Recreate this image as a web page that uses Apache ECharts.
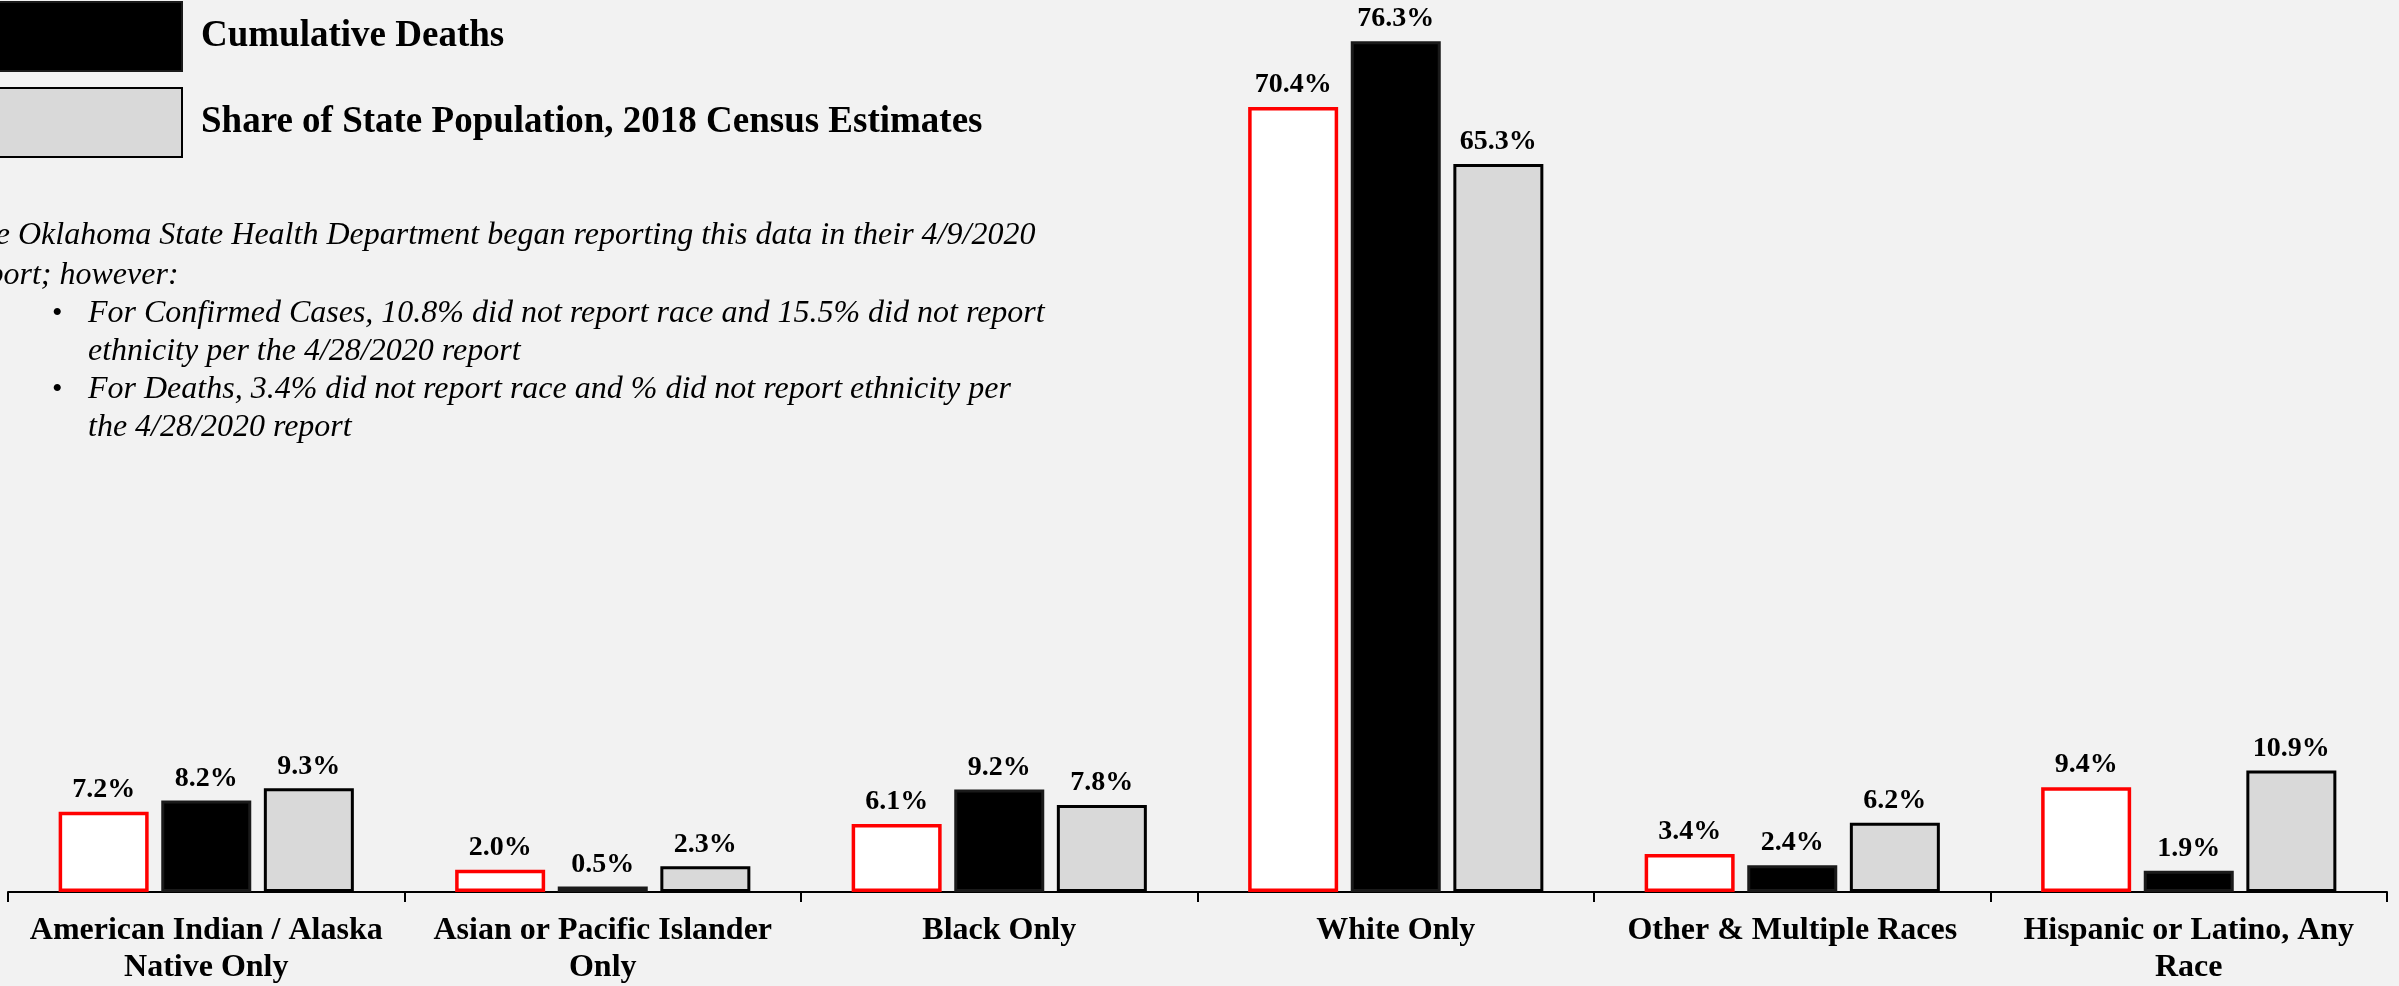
<!DOCTYPE html>
<html><head><meta charset="utf-8">
<script src="https://cdn.jsdelivr.net/npm/echarts@6/dist/echarts.min.js"></script>
<style>html,body{margin:0;padding:0;background:#F2F2F2;}#c{width:2399px;height:986px;}</style>
</head><body><div id="c"></div>
<script>
const categories = ['American Indian / Alaska\nNative Only', 'Asian or Pacific Islander\nOnly', 'Black Only', 'White Only', 'Other & Multiple Races', 'Hispanic or Latino, Any\nRace'];
const confirmedCases = [7.2, 2.0, 6.1, 70.4, 3.4, 9.4];
const cumulativeDeaths = [8.2, 0.5, 9.2, 76.3, 2.4, 1.9];
const statePopulation = [9.3, 2.3, 7.8, 65.3, 6.2, 10.9];
const seriesNames = ['Cumulative Confirmed Cases', 'Cumulative Deaths', 'Share of State Population, 2018 Census Estimates'];
const noteLines = [
  'The Oklahoma State Health Department began reporting this data in their 4/9/2020',
  'report; however:'
];
const bulletLines = [
  ['For Confirmed Cases, 10.8% did not report race and 15.5% did not report', 'ethnicity per the 4/28/2020 report'],
  ['For Deaths, 3.4% did not report race and % did not report ethnicity per', 'the 4/28/2020 report']
];

const FONT = '"Liberation Serif", "Times New Roman", serif';
const chart = echarts.init(document.getElementById('c'));
const lbl = {show: true, position: 'top', distance: 8, formatter: p => p.value.toFixed(1) + '%', fontFamily: FONT, fontWeight: 'bold', fontSize: 28, color: '#000'};

const graphics = [];
const noteY = [236, 276];
noteLines.forEach((t, i) => graphics.push({type: 'text', x: -38, y: noteY[i], style: {text: t, font: 'italic 32px ' + FONT, fill: '#000', verticalAlign: 'middle'}}));
const bulletY = [[314, 352], [390, 428]];
bulletLines.forEach((lines, i) => {
  graphics.push({type: 'text', x: 52, y: bulletY[i][0], style: {text: '•', font: '30px ' + FONT, fill: '#000', verticalAlign: 'middle'}});
  lines.forEach((t, j) => graphics.push({type: 'text', x: 88, y: bulletY[i][j], style: {text: t, font: 'italic 32px ' + FONT, fill: '#000', verticalAlign: 'middle'}}));
});

chart.setOption({
  backgroundColor: '#F2F2F2',
  animation: false,
  grid: {left: 8, right: 12, top: 0, bottom: 93, containLabel: false},
  legend: {
    data: [seriesNames[1], seriesNames[2]],
    orient: 'vertical', left: -19, top: 1, padding: 0,
    itemWidth: 200, itemHeight: 69, itemGap: 15, icon: 'rect',
    textStyle: {fontFamily: FONT, fontWeight: 'bold', fontSize: 37, color: '#000', padding: [0, 0, 0, 14]}
  },
  xAxis: {
    type: 'category', data: categories,
    axisLine: {show: true, lineStyle: {color: '#000', width: 2}},
    axisTick: {show: true, interval: 0, alignWithLabel: false, inside: false, length: 10, lineStyle: {color: '#000', width: 2}},
    axisLabel: {interval: 0, margin: 20, fontFamily: FONT, fontWeight: 'bold', fontSize: 32, color: '#000', lineHeight: 37}
  },
  yAxis: {type: 'value', min: 0, max: 80, show: false, splitLine: {show: false}},
  series: [
    {name: seriesNames[0], type: 'bar', data: confirmedCases, barWidth: 90, barGap: '14%', itemStyle: {color: '#FFFFFF', borderColor: '#FF0000', borderWidth: 3.5}, label: lbl},
    {name: seriesNames[1], type: 'bar', data: cumulativeDeaths, barWidth: 90, itemStyle: {color: '#000000', borderColor: '#1a1a1a', borderWidth: 3}, label: lbl},
    {name: seriesNames[2], type: 'bar', data: statePopulation, barWidth: 90, itemStyle: {color: '#D9D9D9', borderColor: '#000000', borderWidth: 3}, label: lbl}
  ],
  graphic: graphics
});
</script></body></html>
